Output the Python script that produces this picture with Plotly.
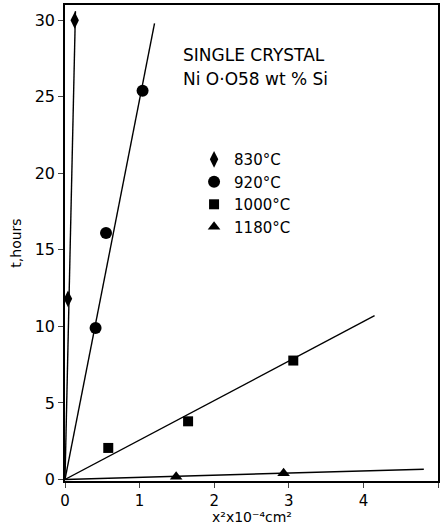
import plotly.graph_objects as go

# Data
labels = ["830°C", "920°C", "1000°C", "1180°C"]
x830 = [0.04, 0.13]
t830 = [11.8, 30.0]
x920 = [0.41, 0.55, 1.04]
t920 = [9.9, 16.1, 25.4]
x1000 = [0.58, 1.65, 3.06]
t1000 = [2.06, 3.8, 7.77]
x1180 = [1.49, 2.93]
t1180 = [0.18, 0.4]
# fitted lines (start at origin)
fit830_x = [0, 0.14]
fit830_t = [0, 30.6]
fit920_x = [0, 1.2]
fit920_t = [0, 29.8]
fit1000_x = [0, 4.15]
fit1000_t = [0, 10.7]
fit1180_x = [0, 4.81]
fit1180_t = [0, 0.67]

xticks = [0, 1, 2, 3, 4, 5]
yticks = [0, 5, 10, 15, 20, 25, 30]

FONT = "DejaVu Sans"
fig = go.Figure()
for fx, ft in [(fit830_x, fit830_t), (fit920_x, fit920_t), (fit1000_x, fit1000_t), (fit1180_x, fit1180_t)]:
    fig.add_trace(go.Scatter(x=fx, y=ft, mode="lines", line=dict(color="black", width=1.4),
                             showlegend=False, hoverinfo="skip", cliponaxis=False))

symbols = ["diamond-tall", "circle", "square", "triangle-up"]
sizes = [12, 12, 10, 11]
for lab, xs, ts, sym, sz in zip(labels, [x830, x920, x1000, x1180], [t830, t920, t1000, t1180], symbols, sizes):
    fig.add_trace(go.Scatter(x=xs, y=ts, mode="markers", name=lab, cliponaxis=False,
                             marker=dict(symbol=sym, size=sz, color="black")))

fig.update_layout(
    width=440, height=527,
    margin=dict(l=65, r=2, t=5, b=46),
    plot_bgcolor="white", paper_bgcolor="white",
    font=dict(family=FONT, size=15, color="black"),
    legend=dict(x=0.346, y=0.71, xanchor="left", yanchor="top", bgcolor="rgba(0,0,0,0)",
                font=dict(size=15), tracegroupgap=0, itemwidth=30),
    annotations=[
        dict(text="SINGLE CRYSTAL", x=0.31, y=0.895, xref="paper", yref="paper",
             xanchor="left", yanchor="middle", showarrow=False, font=dict(size=17)),
        dict(text="Ni O·O58 wt % Si", x=0.31, y=0.845, xref="paper", yref="paper",
             xanchor="left", yanchor="middle", showarrow=False, font=dict(size=17)),
        dict(text="x²x10⁻⁴cm²", x=0.5, y=-0.0966, xref="paper", yref="paper",
             xanchor="center", yanchor="bottom", showarrow=False, font=dict(size=14)),
    ],
)
fig.update_xaxes(range=[0, 5], tickvals=xticks, ticks="outside", ticklen=5, tickwidth=1.2,
                 showline=True, linecolor="black", linewidth=1.5, mirror=True, showgrid=False,
                 zeroline=False, tickfont=dict(size=15), automargin=False)
fig.update_yaxes(range=[-0.1, 31], tickvals=yticks, ticks="outside", ticklen=5, tickwidth=1.2,
                 showline=True, linecolor="black", linewidth=1.5, mirror=True, showgrid=False,
                 zeroline=False, tickfont=dict(size=16), automargin=False,
                 title=dict(text="t,hours", font=dict(size=14), standoff=10))
fig.write_html("out.html", config={"displayModeBar": False},
               post_script="document.body.style.margin='0';")
